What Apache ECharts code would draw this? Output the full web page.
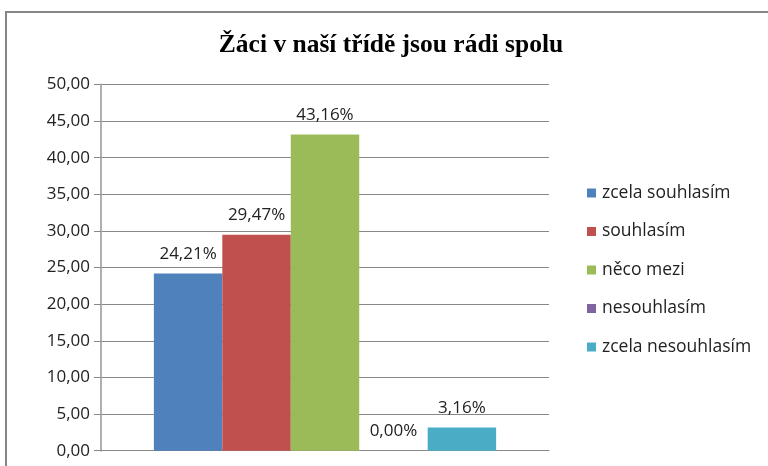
<!DOCTYPE html>
<html><head><meta charset="utf-8">
<script src="https://cdn.jsdelivr.net/npm/echarts@6/dist/echarts.min.js"></script>
<style>html,body{margin:0;padding:0;background:#fff}#c{width:768px;height:466px}</style>
</head><body><div id="c"></div>
<script>
const title = 'Žáci v naší třídě jsou rádi spolu';
const seriesNames = ['zcela souhlasím', 'souhlasím', 'něco mezi', 'nesouhlasím', 'zcela nesouhlasím'];
const seriesValues = [24.21, 29.47, 43.16, 0.00, 3.16];
const seriesColors = ['#4F81BD', '#C0504D', '#9BBB59', '#8064A2', '#4BACC6'];
const categories = [''];
const yMin = 0, yMax = 50, yInterval = 5;

const fmt = v => v.toFixed(2).replace('.', ',');
const font = '"Open Sans", Lato, sans-serif';

const chart = echarts.init(document.getElementById('c'), null, {renderer: 'canvas'});
chart.setOption({
  animation: false,
  backgroundColor: '#fff',
  title: {
    text: title, left: 386, top: 27, textAlign: 'center',
    textStyle: {fontFamily: '"Liberation Serif", serif', fontWeight: 'bold', fontSize: 25.5, color: '#000'}
  },
  graphic: [{
    type: 'rect', shape: {x: 6, y: 12, width: 800, height: 500},
    style: {fill: 'none', stroke: '#868686', lineWidth: 2}, silent: true
  }],
  legend: {
    orient: 'vertical', left: 582, top: 179, itemWidth: 9, itemHeight: 9, itemGap: 20.5,
    icon: 'rect',
    textStyle: {fontFamily: font, fontSize: 17.5, color: '#222', padding: [0, 0, 0, 1]},
    data: seriesNames
  },
  grid: {left: 101, right: 219, top: 84.5, bottom: 15.3, containLabel: false},
  xAxis: {
    type: 'category', data: categories,
    axisLine: {show: true, lineStyle: {color: '#888', width: 1}},
    axisTick: {show: false}, axisLabel: {show: false}
  },
  yAxis: {
    type: 'value', min: yMin, max: yMax, interval: yInterval,
    axisLine: {show: true, lineStyle: {color: '#b0b0b0', width: 2}},
    axisTick: {show: true, length: 7, lineStyle: {color: '#888'}},
    axisLabel: {formatter: fmt, margin: 11, fontFamily: font, fontSize: 17, color: '#222'},
    splitLine: {show: true, lineStyle: {color: '#888', width: 1}}
  },
  series: seriesNames.map((n, i) => ({
    name: n, type: 'bar', data: [seriesValues[i]],
    barGap: '0%', barCategoryGap: '23.6%',
    itemStyle: {color: seriesColors[i]},
    label: {show: true, position: 'top', distance: 11, formatter: p => fmt(p.value) + '%',
      fontFamily: font, fontSize: 17, color: '#222'}
  }))
});
</script></body></html>
